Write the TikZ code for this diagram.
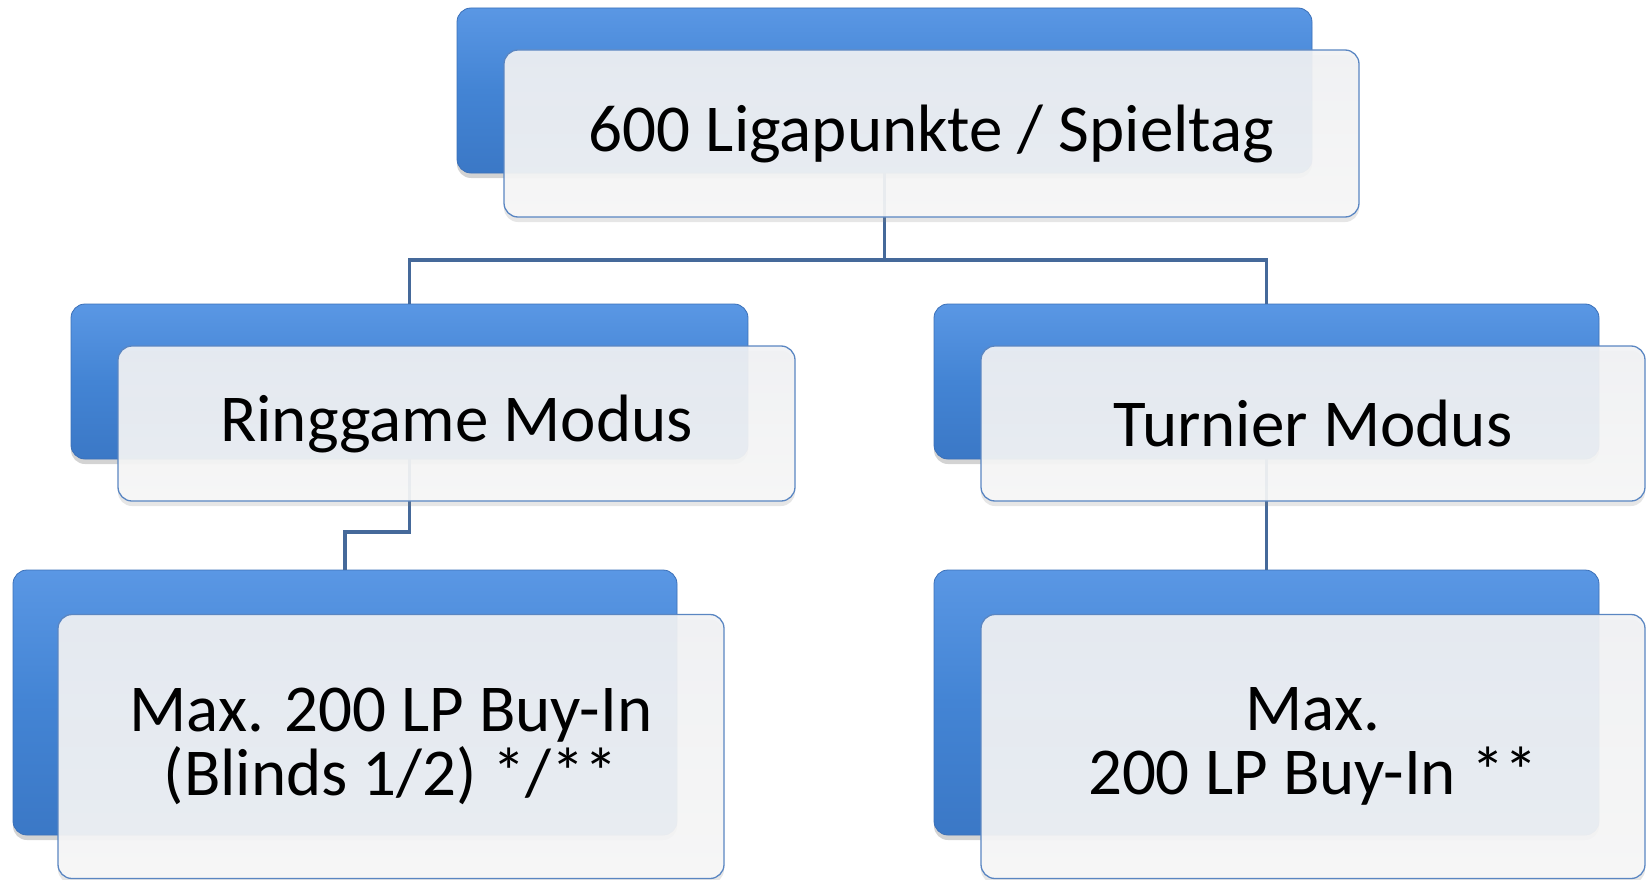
\documentclass[tikz,border=0pt]{standalone}
\usepackage{fontspec}
\setmainfont{Carlito}
\usetikzlibrary{shadows}
\definecolor{blueA}{HTML}{5A97E4}
\definecolor{blueB}{HTML}{4384D4}
\definecolor{blueC}{HTML}{3B78C6}
\definecolor{blueEdge}{HTML}{3B70B8}
\definecolor{lineC}{HTML}{45699A}
\definecolor{edgeC}{HTML}{5A86C2}
\definecolor{wTop}{HTML}{F1F2F4}
\definecolor{wBot}{HTML}{F7F7F7}
\begin{document}
\begin{tikzpicture}[x=1pt,y=-1pt,
  backbox/.style={draw=blueEdge, line width=0.8pt, rounded corners=14pt,
    top color=blueA, bottom color=blueC, middle color=blueB,
    drop shadow={opacity=0.35, shadow xshift=0pt, shadow yshift=-5pt}},
  frontbox/.style={draw=edgeC, line width=1.3pt, rounded corners=14pt,
    top color=wTop, bottom color=wBot, fill opacity=0.92, text opacity=1,
    drop shadow={opacity=0.2, shadow xshift=0pt, shadow yshift=-5pt},
    font=\fontsize{67}{64}\selectfont, align=center, text=black},
  conn/.style={draw=lineC, line width=3.5pt}]
\useasboundingbox (0,0) rectangle (1646,880);
\coordinate (j1) at (884.5,260);
\coordinate (j2) at (409.5,532);
% back boxes
\node[backbox, minimum width=855pt, minimum height=165pt] (tB) at (884.5,90.5) {};
\node[backbox, minimum width=677pt, minimum height=155pt] (lB) at (409.5,381.5) {};
\node[backbox, minimum width=665pt, minimum height=155pt] (rB) at (1266.5,381.5) {};
\node[backbox, minimum width=664pt, minimum height=265pt] (blB) at (345,702.5) {};
\node[backbox, minimum width=665pt, minimum height=265pt] (brB) at (1266.5,702.5) {};
% connectors
\draw[conn] (tB.south) -- (j1);
\draw[conn] (lB.north) |- (j1) -| (rB.north);
\draw[conn] (lB.south) -- (j2) -| (blB.north);
\draw[conn] (rB.south) -- (brB.north);
% front boxes
\node[frontbox, minimum width=855pt, minimum height=167pt] (tF) at (931.5,133.5) {600 Ligapunkte / Spieltag};
\node[frontbox, minimum width=677pt, minimum height=155pt] (lF) at (456.5,423.5) {Ringgame Modus};
\node[frontbox, minimum width=664pt, minimum height=155pt] (rF) at (1313,423.5) {Turnier Modus};
\node[frontbox, minimum width=666pt, minimum height=264pt] (blF) at (391,746.5) {Max. 200 LP Buy-In\\(Blinds 1/2) */**};
\node[frontbox, minimum width=664pt, minimum height=264pt] (brF) at (1313,746.5) {Max.\\200 LP Buy-In **};
\end{tikzpicture}
\end{document}
